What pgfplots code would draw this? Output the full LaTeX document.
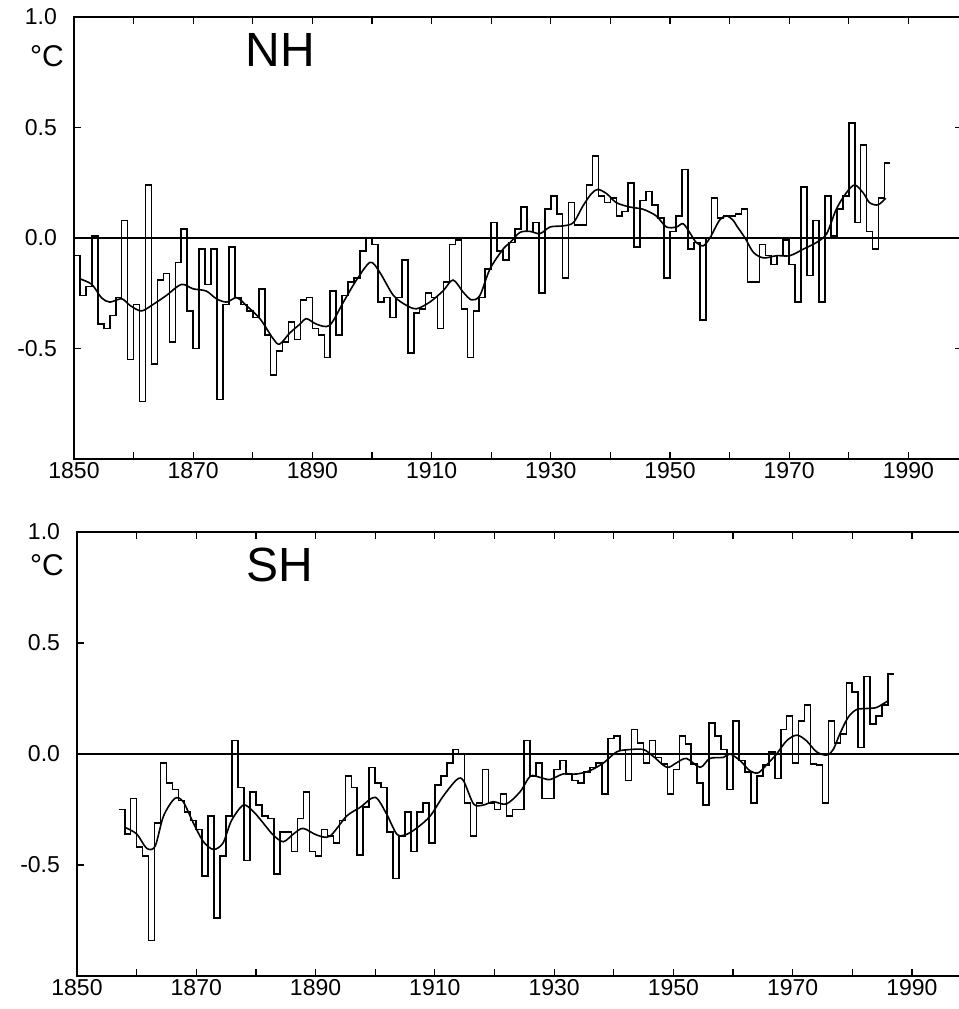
\documentclass[border=0pt]{standalone}
\usepackage{fontspec}
\setmainfont{Liberation Sans}
\usepackage{pgfplots}
\usepackage{pgfplotstable}
\pgfplotsset{compat=1.18}

% annual anomalies, year = start of the step
\pgfplotstableread{
year t
1850 -0.08
1851 -0.26
1852 -0.22
1853 0.01
1854 -0.39
1855 -0.41
1856 -0.35
1857 -0.27
1858 0.08
1859 -0.55
1860 -0.30
1861 -0.74
1862 0.24
1863 -0.57
1864 -0.19
1865 -0.16
1866 -0.47
1867 -0.11
1868 0.04
1869 -0.33
1870 -0.50
1871 -0.05
1872 -0.21
1873 -0.05
1874 -0.73
1875 -0.30
1876 -0.04
1877 -0.27
1878 -0.30
1879 -0.33
1880 -0.36
1881 -0.23
1882 -0.44
1883 -0.62
1884 -0.51
1885 -0.47
1886 -0.38
1887 -0.46
1888 -0.28
1889 -0.27
1890 -0.41
1891 -0.44
1892 -0.54
1893 -0.24
1894 -0.44
1895 -0.26
1896 -0.20
1897 -0.18
1898 -0.06
1899 0.00
1900 -0.03
1901 -0.29
1902 -0.27
1903 -0.36
1904 -0.27
1905 -0.10
1906 -0.52
1907 -0.34
1908 -0.32
1909 -0.25
1910 -0.27
1911 -0.41
1912 -0.20
1913 -0.03
1914 -0.01
1915 -0.32
1916 -0.54
1917 -0.33
1918 -0.27
1919 -0.14
1920 0.07
1921 -0.06
1922 -0.10
1923 -0.02
1924 0.04
1925 0.14
1926 0.03
1927 0.07
1928 -0.25
1929 0.13
1930 0.19
1931 0.11
1932 -0.18
1933 0.16
1934 0.06
1935 0.06
1936 0.24
1937 0.37
1938 0.19
1939 0.16
1940 0.18
1941 0.10
1942 0.12
1943 0.25
1944 -0.04
1945 0.17
1946 0.21
1947 0.15
1948 0.09
1949 -0.18
1950 0.03
1951 0.10
1952 0.31
1953 -0.05
1954 -0.02
1955 -0.37
1956 0.00
1957 0.18
1958 0.09
1959 0.10
1960 0.10
1961 0.11
1962 0.13
1963 -0.20
1964 -0.20
1965 -0.03
1966 -0.08
1967 -0.12
1968 -0.08
1969 -0.01
1970 -0.12
1971 -0.29
1972 0.23
1973 -0.17
1974 0.08
1975 -0.29
1976 0.19
1977 0.01
1978 0.13
1979 0.19
1980 0.52
1981 0.07
1982 0.42
1983 0.03
1984 -0.05
1985 0.18
1986 0.34
1987 0.34
}\nh

\pgfplotstableread{
year t
1851.0 -0.185
1853.0 -0.21
1854.6 -0.27
1856.0 -0.29
1858.0 -0.275
1859.4 -0.305
1861.3 -0.33
1863.3 -0.30
1865.5 -0.26
1868.0 -0.21
1870.0 -0.23
1872.2 -0.24
1873.9 -0.275
1875.6 -0.29
1877.3 -0.27
1878.9 -0.305
1881.2 -0.365
1883.4 -0.455
1884.5 -0.48
1886.2 -0.43
1887.9 -0.39
1889.0 -0.365
1890.7 -0.39
1892.9 -0.395
1895.2 -0.29
1897.4 -0.19
1899.7 -0.11
1901.3 -0.155
1903.6 -0.26
1905.8 -0.305
1907.5 -0.32
1909.7 -0.29
1911.9 -0.24
1913.6 -0.19
1915.3 -0.245
1916.7 -0.28
1918.1 -0.26
1919.8 -0.14
1922.0 -0.05
1923.2 -0.02
1924.8 0.025
1926.5 0.03
1928.2 0.02
1929.9 0.05
1932.1 0.055
1933.8 0.07
1935.4 0.145
1936.8 0.20
1937.9 0.22
1939.4 0.20
1941.0 0.16
1943.3 0.14
1945.5 0.13
1947.7 0.10
1949.4 0.05
1951.1 0.05
1952.2 0.065
1953.3 0.025
1954.4 -0.02
1955.6 -0.035
1956.7 0.00
1958.3 0.08
1959.5 0.10
1960.6 0.08
1961.2 0.055
1962.6 0.00
1964.0 -0.065
1965.7 -0.09
1967.9 -0.08
1970.1 -0.08
1972.4 -0.05
1974.6 -0.02
1976.3 0.02
1977.9 0.13
1979.6 0.205
1981.0 0.24
1982.4 0.205
1983.5 0.16
1984.9 0.15
1986.2 0.18
}\nhs

\pgfplotstableread{
year t
1857 -0.25
1858 -0.36
1859 -0.20
1860 -0.42
1861 -0.46
1862 -0.84
1863 -0.31
1864 -0.04
1865 -0.13
1866 -0.16
1867 -0.21
1868 -0.26
1869 -0.30
1870 -0.34
1871 -0.55
1872 -0.28
1873 -0.74
1874 -0.46
1875 -0.28
1876 0.06
1877 -0.15
1878 -0.48
1879 -0.17
1880 -0.23
1881 -0.28
1882 -0.29
1883 -0.54
1884 -0.35
1885 -0.35
1886 -0.44
1887 -0.29
1888 -0.17
1889 -0.44
1890 -0.46
1891 -0.34
1892 -0.37
1893 -0.40
1894 -0.30
1895 -0.10
1896 -0.15
1897 -0.455
1898 -0.24
1899 -0.06
1900 -0.13
1901 -0.15
1902 -0.35
1903 -0.56
1904 -0.37
1905 -0.26
1906 -0.44
1907 -0.26
1908 -0.22
1909 -0.40
1910 -0.14
1911 -0.10
1912 -0.04
1913 0.02
1914 0.00
1915 -0.22
1916 -0.37
1917 -0.22
1918 -0.07
1919 -0.22
1920 -0.25
1921 -0.18
1922 -0.28
1923 -0.25
1924 -0.25
1925 0.06
1926 -0.10
1927 -0.04
1928 -0.20
1929 -0.20
1930 -0.07
1931 -0.03
1932 -0.09
1933 -0.12
1934 -0.13
1935 -0.08
1936 -0.06
1937 -0.04
1938 -0.18
1939 0.07
1940 0.08
1941 0.015
1942 -0.12
1943 0.11
1944 0.05
1945 -0.04
1946 0.06
1947 -0.015
1948 -0.045
1949 -0.18
1950 -0.07
1951 0.08
1952 0.045
1953 -0.045
1954 -0.13
1955 -0.23
1956 0.14
1957 0.08
1958 0.02
1959 -0.16
1960 0.15
1961 -0.03
1962 -0.08
1963 -0.22
1964 -0.10
1965 -0.05
1966 0.01
1967 -0.11
1968 0.11
1969 0.17
1970 -0.04
1971 0.15
1972 0.22
1973 -0.045
1974 -0.05
1975 -0.22
1976 0.15
1977 0.05
1978 0.09
1979 0.32
1980 0.28
1981 0.03
1982 0.35
1983 0.135
1984 0.17
1985 0.22
1986 0.36
1987 0.36
}\sh

\pgfplotstableread{
year t
1858.0 -0.33
1860.0 -0.36
1861.7 -0.425
1863.1 -0.415
1864.5 -0.28
1866.4 -0.20
1867.8 -0.215
1869.5 -0.31
1871.2 -0.395
1872.9 -0.43
1874.5 -0.40
1875.9 -0.30
1877.9 -0.23
1879.6 -0.26
1881.2 -0.31
1882.9 -0.365
1884.6 -0.395
1886.3 -0.36
1887.9 -0.335
1890.2 -0.365
1892.4 -0.37
1895.2 -0.28
1897.5 -0.24
1900.0 -0.195
1901.9 -0.27
1903.6 -0.36
1905.0 -0.365
1906.9 -0.335
1909.2 -0.28
1911.4 -0.19
1913.7 -0.115
1914.8 -0.12
1916.5 -0.225
1918.1 -0.23
1919.8 -0.215
1922.0 -0.225
1924.3 -0.17
1926.0 -0.10
1927.6 -0.105
1929.3 -0.115
1931.5 -0.09
1933.8 -0.09
1936.0 -0.075
1938.3 -0.04
1940.5 0.01
1942.7 0.02
1945.0 0.02
1946.6 -0.01
1948.9 -0.06
1950.5 -0.04
1952.2 -0.02
1954.5 -0.06
1956.1 -0.02
1958.4 -0.015
1959.5 0.00
1961.2 -0.03
1962.8 -0.075
1964.2 -0.085
1965.6 -0.05
1967.3 0.00
1969.0 0.06
1970.7 0.085
1972.3 0.06
1974.0 0.01
1975.7 -0.005
1976.8 0.02
1977.9 0.09
1979.3 0.165
1980.7 0.20
1982.4 0.205
1984.1 0.21
1986.0 0.24
}\shs

\pgfplotsset{
  tempax/.style={
    scale only axis,
    xmin=1850, xmax=1999, ymin=-1, ymax=1,
    xtick={1850,1860,...,1990},
    xticklabels={1850,,1870,,1890,,1910,,1930,,1950,,1970,,1990},
    ytick={-1,-0.5,0,0.5,1},
    yticklabels={{},-0.5,0.0,0.5,1.0},
    tick align=inside, major tick length=3.5pt,
    tick style={black, line width=0.6pt},
    axis line style={line width=0.9pt},
    ticklabel style={font=\fontsize{11.5}{13}\selectfont},
    xticklabel style={yshift=2pt},
    yticklabel style={xshift=-5pt},
  },
  steps/.style={black, line width=0.8pt, const plot},
  smoothline/.style={black, line width=0.8pt, smooth},
}

\begin{document}
\begin{tikzpicture}
% NH panel
\begin{axis}[tempax, at={(37pt,-229.5pt)}, anchor=south west, width=444pt, height=221pt]
  \addplot[black, line width=0.8pt] coordinates {(1850,0) (1999,0)};
  \addplot[steps] table[x=year, y=t] {\nh};
  \addplot[smoothline] table[x=year, y=t] {\nhs};
  \node[font=\fontsize{24}{24}\selectfont] at (axis cs:1884.6,0.85) {NH};
\end{axis}
% SH panel
\begin{axis}[tempax, at={(38.5pt,-488pt)}, anchor=south west, width=444.3pt, height=222pt]
  \addplot[black, line width=0.8pt] coordinates {(1850,0) (1999,0)};
  \addplot[steps] table[x=year, y=t] {\sh};
  \addplot[smoothline] table[x=year, y=t] {\shs};
  \node[font=\fontsize{24}{24}\selectfont] at (axis cs:1884.0,0.853) {SH};
\end{axis}
\node[font=\fontsize{15}{15}\selectfont] at (23.5pt,-28pt) {°C};
\node[font=\fontsize{15}{15}\selectfont] at (23.5pt,-282.5pt) {°C};
\pgfresetboundingbox
\path[use as bounding box] (0,0) rectangle (479.5pt,-504.5pt);
\end{tikzpicture}
\end{document}
